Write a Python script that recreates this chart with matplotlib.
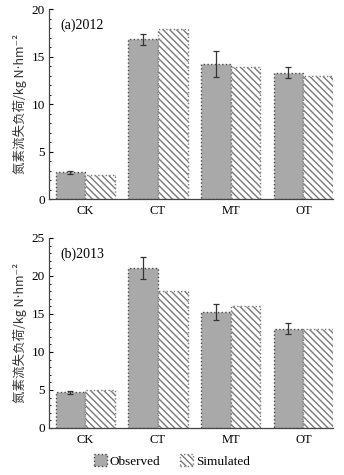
import matplotlib.pyplot as plt
import matplotlib.ticker as ticker
import numpy as np

# data
labels = ["CK", "CT", "MT", "OT"]

obs_2012 = [2.8, 16.8, 14.2, 13.3]
err_2012 = [0.15, 0.6, 1.35, 0.55]
sim_2012 = [2.55, 17.9, 13.85, 12.95]

obs_2013 = [4.7, 21.0, 15.3, 13.05]
err_2013 = [0.2, 1.45, 1.05, 0.75]
sim_2013 = [4.95, 18.0, 16.1, 13.05]

ylabel = "氮素流失负荷/kg N⋅hm⁻²"

plt.rcParams["font.family"] = ["Liberation Serif", "Noto Sans CJK SC", "DejaVu Sans"]
plt.rcParams["hatch.linewidth"] = 1.0

x = np.arange(len(labels))
w = 0.41

fig = plt.figure(figsize=(3.44, 4.75), dpi=100)
ax1 = fig.add_axes([0.1424, 0.581, 0.826, 0.40])
ax2 = fig.add_axes([0.1424, 0.099, 0.826, 0.40])

panels = [
    (ax1, obs_2012, err_2012, sim_2012, "(a)2012", 20, 5),
    (ax2, obs_2013, err_2013, sim_2013, "(b)2013", 25, 5),
]

for ax, obs, err, sim, tag, ymax, step in panels:
    ax.bar(x - w / 2, obs, w, color="#a9a9a9", edgecolor="#4a4a4a",
           linewidth=1.0, linestyle=":", label="Observed")
    ax.bar(x + w / 2, sim, w, color="white", edgecolor="#7a7a7a",
           hatch="\\\\\\\\\\", linewidth=1.0, linestyle=":", label="Simulated")
    ax.errorbar(x - w / 2, obs, yerr=err, fmt="none", ecolor="#333333",
                elinewidth=0.9, capsize=2, capthick=0.9)

    ax.set_xlim(-0.5, 3.41)
    ax.set_ylim(0, ymax)
    ax.yaxis.set_major_locator(ticker.MultipleLocator(step))
    ax.yaxis.set_minor_locator(ticker.MultipleLocator(1))
    ax.set_xticks(x)
    ax.set_xticklabels(labels, fontsize=9)
    ax.tick_params(axis="x", length=0, pad=4)
    ax.tick_params(axis="y", which="major", direction="in", length=3, labelsize=9.5, pad=3)
    ax.tick_params(axis="y", which="minor", direction="in", length=1.5)
    ax.spines[["top", "right"]].set_visible(False)
    for s in ["left", "bottom"]:
        ax.spines[s].set_color("#444444")
        ax.spines[s].set_linewidth(0.9)
    ax.set_ylabel(ylabel, fontsize=9, color="#333333", labelpad=3,
                  family=["Noto Sans CJK SC", "DejaVu Sans"])
    ax.text(0.04, 0.95, tag, transform=ax.transAxes, fontsize=10,
            ha="left", va="top")

handles, lbls = ax1.get_legend_handles_labels()
fig.legend(handles, lbls, loc="lower center", ncol=2, frameon=False,
           bbox_to_anchor=(0.5, -0.01), fontsize=9.5, handlelength=1.0,
           handleheight=1.0, handletextpad=0.2, columnspacing=1.5)

plt.savefig("out.png", dpi=100)
